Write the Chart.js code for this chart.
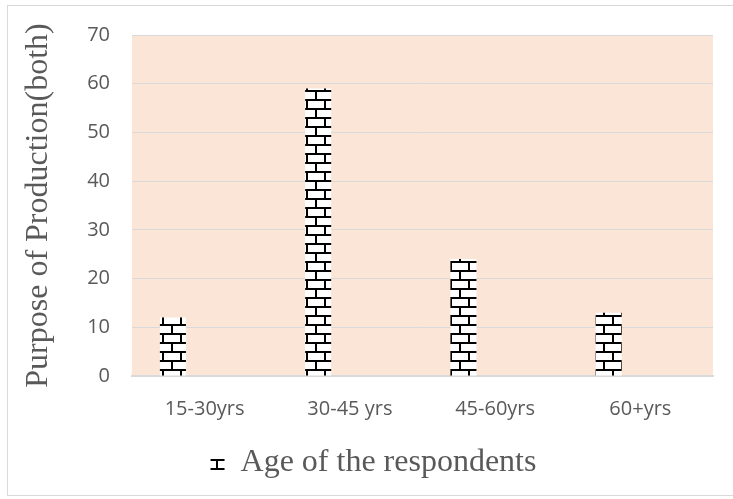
<!DOCTYPE html>
<html>
<head>
<meta charset="utf-8">
<script src="https://cdn.jsdelivr.net/npm/chart.js@4.4.0/dist/chart.umd.min.js"></script>
<style>
    html, body { margin: 0; padding: 0; background: #ffffff; overflow: hidden; }
    #wrap { position: relative; width: 733px; height: 499px; }
    #frame { position: absolute; left: 7px; top: 5px; width: 740px; height: 489px; border: 1px solid #d9d9d9; }
    canvas { position: absolute; left: 0; top: 0; }
</style>
</head>
<body>
<div id="wrap">
    <div id="frame"></div>
    <canvas id="myChart" width="733" height="499"></canvas>
</div>
<script>
// data
const ageGroups = ['15-30yrs', '30-45 yrs', '45-60yrs', '60+yrs'];
const purposeBoth = [12, 59, 24, 13];
const yTicks = [0, 10, 20, 30, 40, 50, 60, 70];
const seriesName = 'Age of the respondents';

// brick fill, like the excel pattern
function brickPattern() {
    const c = document.createElement('canvas');
    c.width = 18;
    c.height = 18;
    const g = c.getContext('2d');
    g.fillStyle = '#ffffff';
    g.fillRect(0, 0, 18, 18);
    g.fillStyle = '#000000';
    g.fillRect(0, 0, 18, 2);
    g.fillRect(0, 9, 18, 2);
    g.fillRect(9, 2, 2, 7);
    g.fillRect(0, 11, 2, 7);
    return g.createPattern(c, 'repeat');
}

const ctx = document.getElementById('myChart');
const bricks = brickPattern();

const plotBackground = {
    id: 'plotBackground',
    beforeDraw(chart) {
        const a = chart.chartArea;
        const c = chart.ctx;
        c.save();
        c.fillStyle = '#fbe5d6';
        c.fillRect(a.left, a.top, a.right - a.left, a.bottom - a.top);
        c.restore();
    }
};

// legend in the source sits a bit right of the page centre
const legendShift = {
    id: 'legendShift',
    afterLayout(chart) {
        chart.legend.left += 17;
        chart.legend.right += 17;
    }
};

new Chart(ctx, {
    type: 'bar',
    data: {
        labels: ageGroups,
        datasets: [
            {
                label: seriesName,
                data: purposeBoth,
                backgroundColor: bricks,
                borderWidth: 0,
            },
            // two empty series so the bar sits left in its slot, as in the source
            { label: '', data: ageGroups.map(() => null) },
            { label: '', data: ageGroups.map(() => null) },
        ]
    },
    options: {
        responsive: false,
        animation: false,
        categoryPercentage: 0.655,
        barPercentage: 0.82,
        layout: { padding: { top: 35, right: 20, left: 0, bottom: 10 } },
        plugins: {
            legend: {
                position: 'bottom',
                labels: {
                    filter: (item) => item.datasetIndex === 0,
                    boxWidth: 14,
                    boxHeight: 14,
                    padding: 10,
                    color: '#595959',
                    font: { family: 'Liberation Serif', size: 32 },
                }
            },
            tooltip: { enabled: false },
        },
        scales: {
            x: {
                grid: { display: false },
                border: { display: true, color: '#d9d9d9', width: 2 },
                ticks: {
                    color: '#595959',
                    padding: 13,
                    maxRotation: 0,
                    font: { family: 'Open Sans', size: 20 },
                },
                afterFit(scale) { scale.height = 61; },
            },
            y: {
                min: 0,
                max: 70,
                afterBuildTicks(scale) { scale.ticks = yTicks.map(v => ({ value: v })); },
                grid: { color: '#d9d9d9', lineWidth: 1, drawTicks: false },
                border: { display: false },
                ticks: {
                    color: '#595959',
                    padding: 22,
                    font: { family: 'Open Sans', size: 20 },
                },
                title: {
                    display: true,
                    text: 'Purpose of Production(both)',
                    color: '#595959',
                    padding: { top: 19, bottom: 0 },
                    font: { family: 'Liberation Serif', size: 32 },
                },
                afterFit(scale) { scale.width = 132; },
            }
        }
    },
    plugins: [plotBackground, legendShift],
});
</script>
</body>
</html>
